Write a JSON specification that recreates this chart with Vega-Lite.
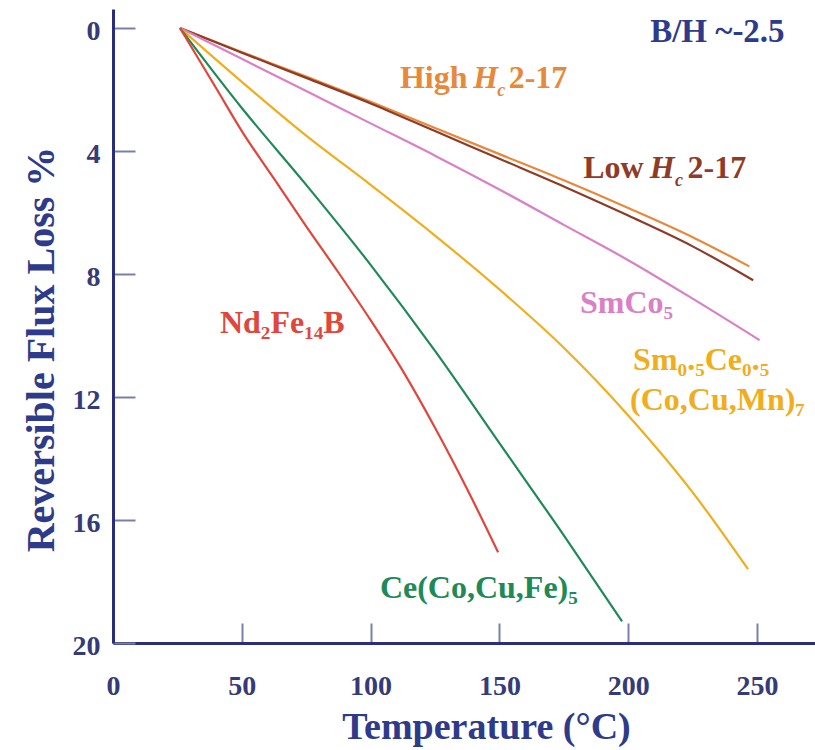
{
  "$schema": "https://vega.github.io/schema/vega-lite/v6.json",
  "width": 702,
  "height": 634,
  "autosize": {"type": "none"},
  "padding": {"left": 113, "top": 9, "right": 0, "bottom": 107},
  "background": "white",
  "config": {"view": {"stroke": null}, "axis": {"grid": false}},
  "datasets": {
    "curves": [
      {"series": "High", "T": 26, "loss": 0},
      {"series": "High", "T": 50, "loss": 0.78},
      {"series": "High", "T": 75, "loss": 1.58},
      {"series": "High", "T": 100, "loss": 2.4},
      {"series": "High", "T": 125, "loss": 3.25},
      {"series": "High", "T": 150, "loss": 4.1},
      {"series": "High", "T": 175, "loss": 4.95},
      {"series": "High", "T": 200, "loss": 5.85},
      {"series": "High", "T": 225, "loss": 6.8},
      {"series": "High", "T": 247, "loss": 7.75},
      {"series": "Low", "T": 26, "loss": 0},
      {"series": "Low", "T": 50, "loss": 0.8},
      {"series": "Low", "T": 75, "loss": 1.62},
      {"series": "Low", "T": 100, "loss": 2.45},
      {"series": "Low", "T": 125, "loss": 3.35},
      {"series": "Low", "T": 150, "loss": 4.25},
      {"series": "Low", "T": 175, "loss": 5.15},
      {"series": "Low", "T": 200, "loss": 6.1},
      {"series": "Low", "T": 225, "loss": 7.1},
      {"series": "Low", "T": 248.5, "loss": 8.2},
      {"series": "SmCo5", "T": 26, "loss": 0},
      {"series": "SmCo5", "T": 50, "loss": 1.0},
      {"series": "SmCo5", "T": 75, "loss": 2.05},
      {"series": "SmCo5", "T": 100, "loss": 3.1},
      {"series": "SmCo5", "T": 125, "loss": 4.15},
      {"series": "SmCo5", "T": 150, "loss": 5.25},
      {"series": "SmCo5", "T": 175, "loss": 6.4},
      {"series": "SmCo5", "T": 200, "loss": 7.55},
      {"series": "SmCo5", "T": 225, "loss": 8.8},
      {"series": "SmCo5", "T": 251, "loss": 10.15},
      {"series": "SmCe", "T": 26, "loss": 0},
      {"series": "SmCe", "T": 50, "loss": 1.75},
      {"series": "SmCe", "T": 75, "loss": 3.5},
      {"series": "SmCe", "T": 100, "loss": 5.1},
      {"series": "SmCe", "T": 125, "loss": 6.75},
      {"series": "SmCe", "T": 150, "loss": 8.5},
      {"series": "SmCe", "T": 175, "loss": 10.4},
      {"series": "SmCe", "T": 200, "loss": 12.6},
      {"series": "SmCe", "T": 225, "loss": 15.1},
      {"series": "SmCe", "T": 246.5, "loss": 17.6},
      {"series": "Ce", "T": 26, "loss": 0},
      {"series": "Ce", "T": 50, "loss": 2.6},
      {"series": "Ce", "T": 75, "loss": 5.1},
      {"series": "Ce", "T": 100, "loss": 7.7},
      {"series": "Ce", "T": 125, "loss": 10.5},
      {"series": "Ce", "T": 150, "loss": 13.5},
      {"series": "Ce", "T": 175, "loss": 16.5},
      {"series": "Ce", "T": 197.6, "loss": 19.3},
      {"series": "Nd", "T": 26, "loss": 0},
      {"series": "Nd", "T": 40, "loss": 1.95},
      {"series": "Nd", "T": 50, "loss": 3.35},
      {"series": "Nd", "T": 62.5, "loss": 4.9},
      {"series": "Nd", "T": 75, "loss": 6.45},
      {"series": "Nd", "T": 87.5, "loss": 7.95},
      {"series": "Nd", "T": 100, "loss": 9.5},
      {"series": "Nd", "T": 112.5, "loss": 11.15},
      {"series": "Nd", "T": 125, "loss": 13.0},
      {"series": "Nd", "T": 137.5, "loss": 15.0},
      {"series": "Nd", "T": 149.5, "loss": 17.05}
    ],
    "labels": [
      {"kind": "note", "series": "note", "text": "B/H ~-2.5", "T": 208.5, "loss": 0.46},
      {"kind": "main", "series": "High", "text": "High", "T": 111.4, "loss": 1.95},
      {"kind": "italic", "series": "High", "text": "H", "T": 139.8, "loss": 1.95},
      {"kind": "sub", "series": "High", "text": "c", "T": 149.2, "loss": 2.21},
      {"kind": "main", "series": "High", "text": "2-17", "T": 153.6, "loss": 1.95},
      {"kind": "main", "series": "Low", "text": "Low", "T": 182.5, "loss": 4.88},
      {"kind": "italic", "series": "Low", "text": "H", "T": 208.4, "loss": 4.88},
      {"kind": "sub", "series": "Low", "text": "c", "T": 218.2, "loss": 5.14},
      {"kind": "main", "series": "Low", "text": "2-17", "T": 223.0, "loss": 4.88},
      {"kind": "main", "series": "SmCo5", "text": "SmCo₅", "T": 181.3, "loss": 9.27},
      {"kind": "main", "series": "SmCe", "text": "Sm₀.₅Ce₀.₅", "T": 201.9, "loss": 11.12},
      {"kind": "main", "series": "SmCe", "text": "(Co,Cu,Mn)₇", "T": 200.7, "loss": 12.42},
      {"kind": "main", "series": "Nd", "text": "Nd₂Fe₁₄B", "T": 41.5, "loss": 9.92},
      {"kind": "main", "series": "Ce", "text": "Ce(Co,Cu,Fe)₅", "T": 103.6, "loss": 18.54}
    ]
  },
  "encoding": {
    "x": {
      "field": "T", "type": "quantitative",
      "scale": {"domain": [0, 272.5], "nice": false, "zero": false},
      "axis": {
        "title": "Temperature (°C)",
        "values": [0, 50, 100, 150, 200, 250],
        "domainColor": "#2a2e7a", "domainWidth": 3,
        "tickColor": "#7b7fa8", "tickWidth": 2, "tickSize": -20,
        "labelFont": "Liberation Serif", "labelFontSize": 28, "labelFontWeight": "bold",
        "labelColor": "#353b78", "labelPadding": 71, "labelBaseline": "alphabetic",
        "labelFlush": false,
        "titleFont": "Liberation Serif", "titleFontSize": 38, "titleFontWeight": "bold",
        "titleColor": "#2e3a8a", "titleX": 373, "titleY": 95,
        "titleBaseline": "alphabetic", "titleAlign": "center", "titleAnchor": null
      }
    },
    "y": {
      "field": "loss", "type": "quantitative",
      "scale": {"domain": [-0.62, 20], "reverse": true, "nice": false, "zero": false},
      "axis": {
        "title": "Reversible Flux Loss %",
        "values": [0, 4, 8, 12, 16, 20],
        "domainColor": "#2a2e7a", "domainWidth": 3,
        "tickColor": "#7b7fa8", "tickWidth": 2, "tickSize": -22,
        "labelFont": "Liberation Serif", "labelFontSize": 28, "labelFontWeight": "bold",
        "labelColor": "#353b78", "labelPadding": 35, "labelBaseline": "middle",
        "labelOffset": 3, "labelFlush": false,
        "titleFont": "Liberation Serif", "titleFontSize": 40, "titleFontWeight": "bold",
        "titleColor": "#2e3a8a", "titleX": -60, "titleY": 340, "titleAngle": -90,
        "titleBaseline": "alphabetic", "titleAlign": "center", "titleAnchor": null
      }
    },
    "color": {
      "field": "series", "type": "nominal",
      "scale": {
        "domain": ["High", "Low", "SmCo5", "SmCe", "Nd", "Ce", "note"],
        "range": ["#e8883a", "#8e3b28", "#d981c4", "#f0ae1e", "#e0463c", "#1f8a58", "#2e3a8c"]
      },
      "legend": null
    }
  },
  "layer": [
    {
      "data": {"name": "curves"},
      "mark": {"type": "line", "strokeWidth": 2.2, "interpolate": "monotone"}
    },
    {
      "data": {"name": "labels"},
      "transform": [{"filter": "datum.kind === 'main'"}],
      "mark": {"type": "text", "align": "left", "baseline": "alphabetic", "font": "Liberation Serif", "fontSize": 32, "fontWeight": "bold"},
      "encoding": {"text": {"field": "text"}}
    },
    {
      "data": {"name": "labels"},
      "transform": [{"filter": "datum.kind === 'italic'"}],
      "mark": {"type": "text", "align": "left", "baseline": "alphabetic", "font": "Liberation Serif", "fontSize": 32, "fontWeight": "bold", "fontStyle": "italic"},
      "encoding": {"text": {"field": "text"}}
    },
    {
      "data": {"name": "labels"},
      "transform": [{"filter": "datum.kind === 'sub'"}],
      "mark": {"type": "text", "align": "left", "baseline": "alphabetic", "font": "Liberation Serif", "fontSize": 18, "fontWeight": "bold", "fontStyle": "italic"},
      "encoding": {"text": {"field": "text"}}
    },
    {
      "data": {"name": "labels"},
      "transform": [{"filter": "datum.kind === 'note'"}],
      "mark": {"type": "text", "align": "left", "baseline": "alphabetic", "font": "Liberation Serif", "fontSize": 33, "fontWeight": "bold"},
      "encoding": {"text": {"field": "text"}}
    }
  ]
}
